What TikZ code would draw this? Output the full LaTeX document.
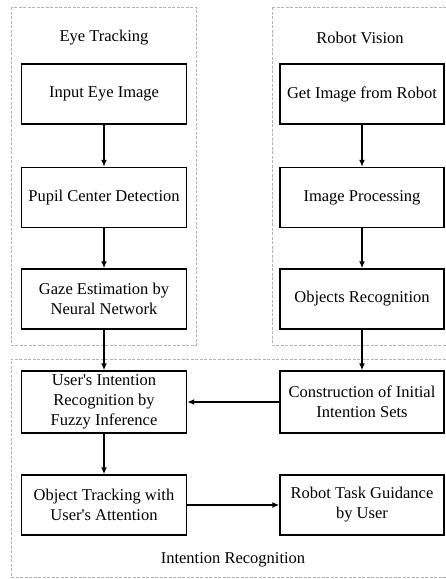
\documentclass[tikz,border=0pt]{standalone}
\usepackage{fontspec}
\setmainfont{Liberation Serif}
\usetikzlibrary{arrows.meta}
\begin{document}
\begin{tikzpicture}[x=1pt,y=1pt,
  stepbox/.style={draw, line width=1.4pt, minimum width=165pt, minimum height=60pt,
    align=center, inner sep=2pt, font=\fontsize{16.5}{20}\selectfont},
  grp/.style={draw=black!30, dashed, dash pattern=on 3pt off 1.5pt, line width=0.7pt},
  title/.style={font=\fontsize{16.5}{20}\selectfont},
  flow/.style={line width=1.4pt, -{Latex[length=7pt,width=6pt]}}]
\useasboundingbox (0,0) rectangle (446,-579);
% group frames
\draw[grp] (11,-7) rectangle (196,-345);
\draw[grp] (272,-7) -- (450,-7) (272,-7) -- (272,-345) -- (450,-345);
\draw[grp] (450,-359) -- (11,-359) -- (11,-577) -- (450,-577);
% titles
\node[title] (tEye) at (104,-38) {Eye Tracking};
\node[title] (tRob) at (360,-38) {Robot Vision};
\node[title] (tInt) at (233,-560) {Intention Recognition};
% left column
\node[stepbox] (eye)   at (104,-94)  {Input Eye Image};
\node[stepbox] (pupil) at (104,-197.5) {Pupil Center Detection};
\node[stepbox] (gaze)  at (104,-299) {Gaze Estimation by\\Neural Network};
\node[stepbox, minimum height=62pt] (fuzzy) at (104,-402) {User\textquotesingle s Intention\\Recognition by\\Fuzzy Inference};
\node[stepbox] (track) at (104,-505) {Object Tracking with\\User\textquotesingle s Attention};
% right column
\node[stepbox, minimum width=164pt] (get)   at (362,-94)  {Get Image from Robot};
\node[stepbox, minimum width=164pt] (proc)  at (362,-197.5) {Image Processing};
\node[stepbox, minimum width=164pt] (objs)  at (362,-299) {Objects Recognition};
\node[stepbox, minimum width=164pt, minimum height=62pt] (init) at (362,-402) {Construction of Initial\\Intention Sets};
\node[stepbox, minimum width=164pt] (guide) at (362,-505) {Robot Task Guidance\\by User};
% connectors
\draw[flow] (eye) -- (pupil);
\draw[flow] (pupil) -- (gaze);
\draw[flow] (gaze) -- (fuzzy);
\draw[flow] (fuzzy) -- (track);
\draw[flow] (get) -- (proc);
\draw[flow] (proc) -- (objs);
\draw[flow] (objs) -- (init);
\draw[flow] (init) -- (fuzzy);
\draw[flow] (track) -- (guide);
\end{tikzpicture}
\end{document}
